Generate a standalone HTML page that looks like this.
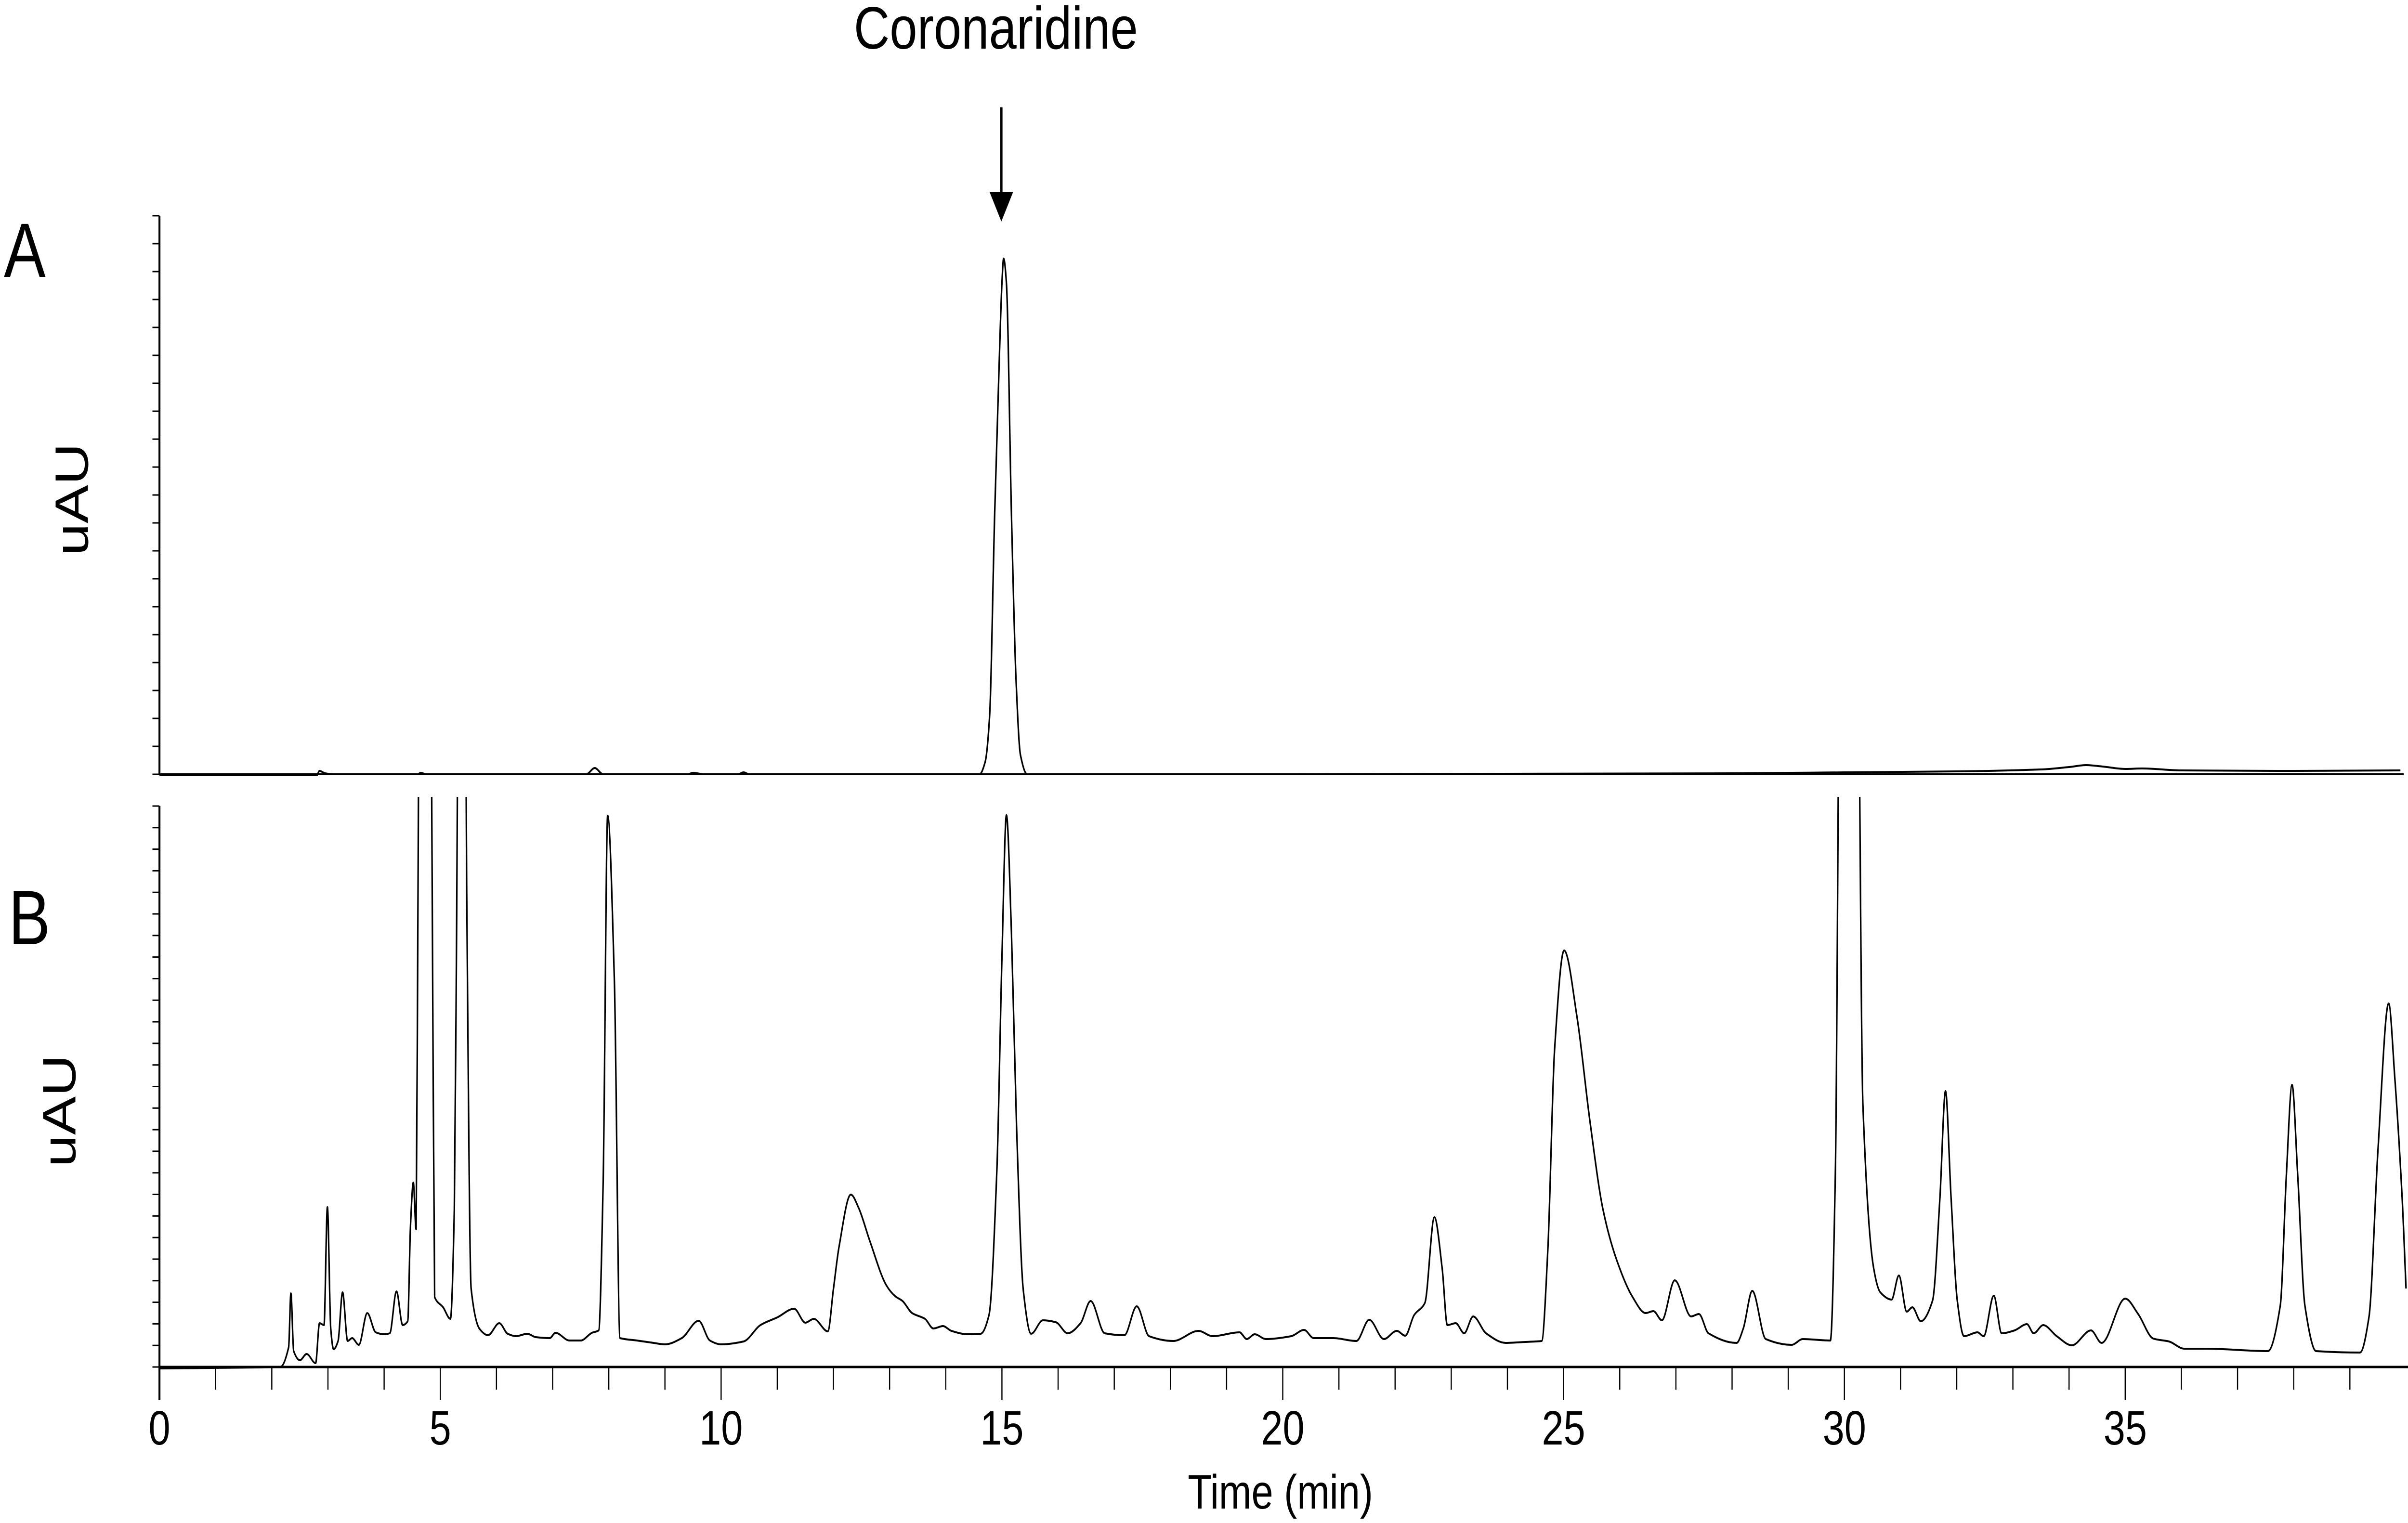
<!DOCTYPE html>
<html><head><meta charset="utf-8"><title>Chromatogram</title>
<style>html,body{margin:0;padding:0;background:#fff;width:100%;height:100%;overflow:hidden;}svg{display:block;width:100vw;height:100vh;}text{font-family:"Liberation Sans",sans-serif;fill:#000;}</style>
</head><body>
<svg id="chart" viewBox="0 0 6161 3163" preserveAspectRatio="none" xmlns="http://www.w3.org/2000/svg">
<defs><clipPath id="clipB"><rect x="408" y="1655" width="5753" height="1300"/></clipPath></defs>
<text x="2548" y="101" font-size="124" text-anchor="middle" textLength="727" lengthAdjust="spacingAndGlyphs">Coronaridine</text>
<line x1="2562" y1="223" x2="2562" y2="405" stroke="#000" stroke-width="6"/>
<polygon points="2532,399 2592,399 2562,460" fill="#000"/>
<text x="10" y="575" font-size="160">A</text>
<text x="22" y="1961" font-size="160">B</text>
<text transform="translate(225,1037) rotate(-90)" font-size="120" text-anchor="middle">uAU</text>
<text transform="translate(193,2307) rotate(-90)" font-size="120" text-anchor="middle">uAU</text>
<g id="axes"></g>
<g id="traces"></g>
<text x="3276" y="3133" font-size="100" text-anchor="middle">Time (min)</text>
</svg>
<script>
// Panel A trace: [time (min), signal above baseline]
const traceATime = [0,2.8,2.85,2.95,3.1,4.6,4.65,4.75,7.6,7.75,7.9,9.4,9.5,9.7,10.3,10.4,10.5,14.6,14.7,14.78,14.87,14.95,15.0,15.03,15.08,15.17,15.25,15.33,15.45,20,24,28,30,32,33.5,34.0,34.3,34.6,35,35.3,36,38,39.9];
const traceAValue = [-2,-2,7,2,0,0,3,0,0,13,0,0,3,0,0,4,0,0,25,120,537,850,1020,1071,1020,537,200,40,0,0,1,2,4,6,10,15,19,16,11,12,8,7,8];
// Panel B trace
const traceBTime = [0,2.15,2.3,2.34,2.39,2.5,2.62,2.78,2.85,2.93,2.99,3.05,3.1,3.18,3.26,3.35,3.43,3.55,3.7,3.85,4.0,4.1,4.22,4.33,4.42,4.47,4.52,4.57,4.6,4.65,4.72,4.8,4.86,4.9,5.05,5.18,5.25,5.29,5.35,5.42,5.47,5.55,5.7,5.85,6.05,6.2,6.35,6.55,6.7,6.95,7.05,7.3,7.5,7.7,7.82,7.9,7.98,8.1,8.2,8.5,8.8,9.0,9.3,9.6,9.8,10.0,10.4,10.7,11.0,11.3,11.5,11.65,11.9,12.0,12.1,12.31,12.45,12.65,12.94,13.1,13.23,13.4,13.63,13.78,13.95,14.1,14.39,14.62,14.77,14.91,15.0,15.08,15.17,15.26,15.38,15.52,15.73,15.96,16.17,16.4,16.58,16.83,17.18,17.4,17.62,18.05,18.5,18.75,19.23,19.36,19.5,19.7,20.15,20.38,20.55,20.9,21.31,21.54,21.8,22.03,22.18,22.34,22.53,22.7,22.84,22.93,23.08,23.23,23.39,23.62,23.97,24.32,24.61,24.72,24.84,25.01,25.24,25.47,25.7,25.94,26.23,26.46,26.6,26.75,26.98,27.27,27.41,27.58,28.08,28.2,28.36,28.6,29.06,29.26,29.75,29.84,29.95,30.05,30.2,30.33,30.52,30.64,30.84,30.97,31.11,31.21,31.36,31.57,31.7,31.8,31.9,32.01,32.13,32.37,32.48,32.66,32.8,33.03,33.25,33.37,33.54,33.78,34.05,34.39,34.58,35.0,35.23,35.5,35.78,36.05,36.44,37.54,37.76,37.87,37.97,38.07,38.2,38.4,39.18,39.34,39.5,39.69,39.8,39.93,40.0];
const traceBValue = [-3,0,41,153,33,14,27,8,91,87,332,79,37,54,155,54,60,46,112,72,68,70,157,87,95,294,383,286,900,2000,2000,2000,900,145,124,100,328,900,2000,2000,1000,162,79,66,91,69,64,69,62,60,71,55,55,71,76,384,1145,800,60,55,50,47,60,96,55,47,53,87,103,121,92,100,74,162,250,358,330,261,170,147,137,112,100,80,85,75,68,69,108,410,850,1146,900,500,160,69,97,93,70,91,137,70,66,126,64,54,75,64,72,58,68,58,64,77,60,60,54,98,58,75,65,108,133,311,203,87,91,70,105,70,50,52,54,245,659,865,726,510,328,224,145,112,116,97,180,105,110,70,50,80,158,58,46,58,55,410,2000,2000,2000,543,206,155,140,190,115,124,95,138,350,573,350,138,64,72,64,148,70,76,89,70,87,64,45,76,50,142,110,59,53,38,38,33,127,400,586,400,127,33,30,104,450,755,600,353,163];
const xTickValues = [0,5,10,15,20,25,30,35];

const X0 = 408, PXMIN = 143.7;
const A_BASE = 1608, A_TOP = 448, B_BASE = 2839, B_TOP = 1674;
const xs = t => X0 + t * PXMIN;
const yA = v => A_BASE - v;
const yB = v => B_BASE - v;
const NS = 'http://www.w3.org/2000/svg';
const axes = document.getElementById('axes');
const traces = document.getElementById('traces');
function mk(tag, attrs, parent) {
  const e = document.createElementNS(NS, tag);
  for (const k in attrs) e.setAttribute(k, attrs[k]);
  parent.appendChild(e);
  return e;
}
// monotone cubic (Fritsch-Carlson) path through points
function smoothPath(px, py) {
  const n = px.length, d = [], m = new Array(n).fill(0);
  for (let i = 0; i < n - 1; i++) d.push((py[i+1]-py[i])/(px[i+1]-px[i]));
  m[0] = d[0]; m[n-1] = d[n-2];
  for (let i = 1; i < n - 1; i++) m[i] = (d[i-1]*d[i] <= 0) ? 0 : 2/(1/d[i-1]+1/d[i]);
  let s = 'M' + px[0].toFixed(1) + ',' + py[0].toFixed(1);
  for (let i = 0; i < n - 1; i++) {
    const h = (px[i+1]-px[i])/3;
    s += ' C' + (px[i]+h).toFixed(1) + ',' + (py[i]+m[i]*h).toFixed(1) + ' ' + (px[i+1]-h).toFixed(1) + ',' + (py[i+1]-m[i+1]*h).toFixed(1) + ' ' + px[i+1].toFixed(1) + ',' + py[i+1].toFixed(1);
  }
  return s;
}
let el;
el = mk('line', {x1: X0, y1: A_TOP, x2: X0, y2: A_BASE, stroke: '#000', 'stroke-width': 5}, axes);


el = mk('line', {x1: X0, y1: A_BASE, x2: 6150, y2: A_BASE, stroke: '#000', 'stroke-width': 4}, axes);


el = mk('line', {x1: X0, y1: B_TOP, x2: X0, y2: 2908, stroke: '#000', 'stroke-width': 5}, axes);


el = mk('line', {x1: X0, y1: B_BASE, x2: 6161, y2: B_BASE, stroke: '#000', 'stroke-width': 5}, axes);


for (let i = 0; i <= 20; i++) {
  const y = A_BASE - i * (A_BASE - A_TOP) / 20;
  el = mk('line', {x1: X0 - 18, y1: y, x2: X0, y2: y, stroke: '#000', 'stroke-width': 3}, axes);
  
  
}
for (let i = 0; i <= 26; i++) {
  const y = B_BASE - i * (B_BASE - B_TOP) / 26;
  el = mk('line', {x1: X0 - 18, y1: y, x2: X0, y2: y, stroke: '#000', 'stroke-width': 3}, axes);
  
  
}
for (let m = 1; m <= 39; m++) {
  const major = m % 5 === 0;
  el = mk('line', {x1: xs(m), y1: B_BASE, x2: xs(m), y2: major ? 2908 : 2886, stroke: '#000', 'stroke-width': 3}, axes);
  
  
}
xTickValues.forEach(v => {
  const t = mk('text', {x: xs(v), y: 3000, 'font-size': 100, 'text-anchor': 'middle'}, axes);
  t.textContent = String(v);
  
  
});
el = mk('path', {d: smoothPath(traceATime.map(xs), traceAValue.map(yA)), fill: 'none', stroke: '#000', 'stroke-width': 4, 'stroke-linejoin': 'round'}, traces);


el = mk('path', {d: smoothPath(traceBTime.map(xs), traceBValue.map(yB)), fill: 'none', stroke: '#000', 'stroke-width': 4, 'stroke-linejoin': 'round', 'clip-path': 'url(#clipB)'}, traces);


</script>
</body></html>
